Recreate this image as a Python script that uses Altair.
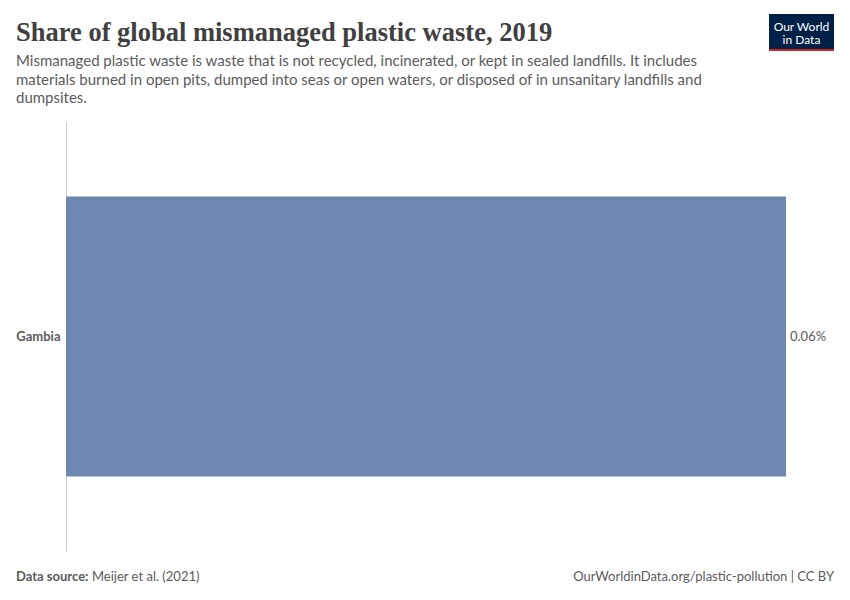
import altair as alt
import pandas as pd

entities = ["Gambia"]
shares = [0.06]
value_labels = ["0.06%"]

title_text = "Share of global mismanaged plastic waste, 2019"
subtitle_lines = [
    "Mismanaged plastic waste is waste that is not recycled, incinerated, or kept in sealed landfills. It includes",
    "materials burned in open pits, dumped into seas or open waters, or disposed of in unsanitary landfills and",
    "dumpsites.",
]
source_label = "Data source:"
source_text = "Meijer et al. (2021)"
footer_right = "OurWorldinData.org/plastic-pollution | CC BY"

df = pd.DataFrame({"entity": entities, "share": shares, "label": value_labels})

W, H = 720, 429
GREY = "#5b5b5b"

x_scale = alt.Scale(domain=[0, max(shares)], nice=False, zero=True)
y_scale = alt.Scale(paddingInner=0, paddingOuter=0.266)

base = alt.Chart(df)

bars = base.mark_bar(color="#6e87b0").encode(
    x=alt.X("share:Q", scale=x_scale, axis=None),
    y=alt.Y("entity:N", scale=y_scale, title=None,
            axis=alt.Axis(domain=True, domainColor="#cccccc", domainWidth=1, ticks=False,
                          labelFont="Lato", labelFontSize=13, labelFontWeight="bold",
                          labelColor=GREY, labelPadding=6, grid=False)),
)

vals = base.mark_text(align="left", baseline="middle", dx=4, font="Lato", fontSize=13, color=GREY).encode(
    x=alt.X("share:Q", scale=x_scale),
    y=alt.Y("entity:N", scale=y_scale),
    text="label:N",
)

def txt(text, x, y, size=13, color=GREY, weight="normal", font="Lato", align="left"):
    return alt.Chart(pd.DataFrame({"t": [text]})).mark_text(
        align=align, baseline="alphabetic", font=font, fontSize=size, color=color, fontWeight=weight
    ).encode(x=alt.value(x), y=alt.value(y), text="t:N")

layers = [bars, vals]
layers.append(txt(title_text, -50, -81, size=26.5, color="#404040", weight="bold", font="Liberation Serif"))
for i, line in enumerate(subtitle_lines):
    layers.append(txt(line, -50, -56 + i * 18.5, size=15, color=GREY))
layers.append(txt(source_label, -50, 459, size=13, color=GREY, weight="bold"))
layers.append(txt(source_text, 26, 459, size=13, color=GREY))
layers.append(txt(footer_right, 768, 459, size=13, color=GREY, align="right"))

logo_bg = alt.Chart(pd.DataFrame({"a": [0]})).mark_rect(color="#002147").encode(
    x=alt.value(703), x2=alt.value(768), y=alt.value(-108), y2=alt.value(-73))
logo_red = alt.Chart(pd.DataFrame({"a": [0]})).mark_rect(color="#ce261e").encode(
    x=alt.value(703), x2=alt.value(768), y=alt.value(-73), y2=alt.value(-71))
layers += [logo_bg, logo_red]
layers.append(txt("Our World", 735.5, -91.5, size=12, color="white", align="center"))
layers.append(txt("in Data", 735.5, -78, size=12, color="white", align="center"))

chart = alt.layer(*layers).properties(
    width=W, height=H,
    background="white",
    autosize=alt.AutoSizeParams(type="none"),
    padding={"left": 58, "top": 114, "right": 56, "bottom": 41},
).configure_view(strokeWidth=0)

chart.save("out.html", embed_options={"renderer": "svg", "actions": False})
